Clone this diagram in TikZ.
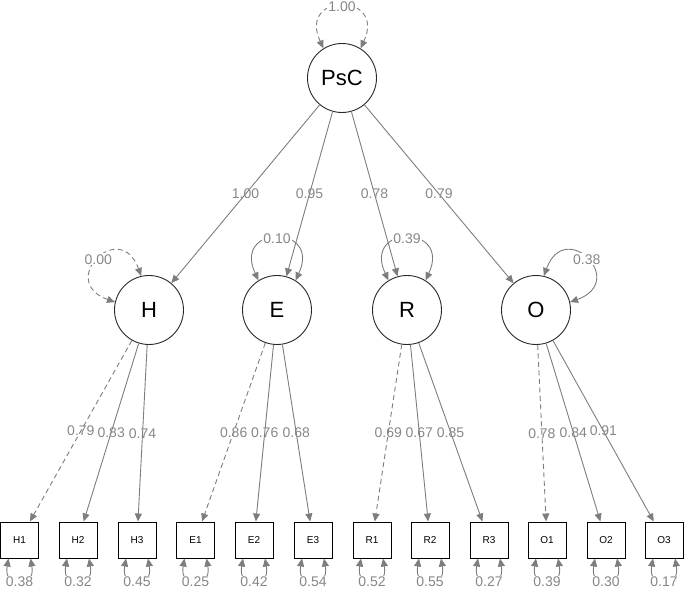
\documentclass[tikz,border=0pt]{standalone}
\usepackage{fontspec}
\setmainfont{Liberation Sans}
\usetikzlibrary{arrows.meta}
\definecolor{semEdge}{RGB}{125,125,125}
\definecolor{semLabel}{RGB}{135,135,135}
\definecolor{semLine}{RGB}{40,40,40}

\begin{document}
\begin{tikzpicture}[x=1pt,y=1pt,
    latent/.style={circle, draw=semLine, line width=0.9pt, minimum size=69pt,
                   inner sep=0pt, font=\fontsize{22}{22}\selectfont},
    manifest/.style={rectangle, draw=black, line width=1pt, minimum width=38pt,
                     minimum height=36pt, inner sep=0pt, font=\fontsize{10}{10}\selectfont},
    load/.style={draw=semEdge, line width=0.9pt, -{Triangle[length=8pt,width=7pt]}},
    fixedload/.style={load, dash pattern=on 5pt off 3.5pt},
    varloop/.style={draw=semEdge, line width=0.9pt,
                    {Triangle[length=8pt,width=7pt]}-{Triangle[length=8pt,width=7pt]}},
    fixedloop/.style={varloop, dash pattern=on 5pt off 3.5pt},
    est/.style={font=\fontsize{14}{14}\selectfont, text=semLabel, inner sep=1pt},
    estbg/.style={est, fill=white}
  ]
  \useasboundingbox (0,0) rectangle (685,590);

  % latent variables
  \node[latent] (PsC) at (342,512) {PsC};
  \node[latent] (H)   at (149,280) {H};
  \node[latent] (E)   at (277,280) {E};
  \node[latent] (R)   at (407,280) {R};
  \node[latent] (O)   at (536,280) {O};

  % indicators with residual variances
  \foreach \name/\x/\res in {H1/19.5/0.38, H2/78/0.32, H3/137/0.45,
                             E1/195.5/0.25, E2/254/0.42, E3/313/0.54,
                             R1/372/0.52, R2/430/0.55, R3/489/0.27,
                             O1/547/0.39, O2/606/0.30, O3/664/0.17} {
    \node[manifest] (\name) at (\x,50) {\name};
    \draw[varloop] ([xshift=-11pt]\name.south) .. controls +(260:32) and +(280:32)
      .. node[estbg] {\res} ([xshift=11pt]\name.south);
  }

  % second-order loadings
  \foreach \to/\val in {H/1.00, E/0.95, R/0.78, O/0.79}
    \draw[load] (PsC) -- node[est] {\val} (\to);

  % first-order loadings (first one fixed)
  \foreach \lat/\val in {H/0.79, E/0.86, R/0.69, O/0.78}
    \draw[fixedload] (\lat) -- node[est] {\val} (\lat1);
  \foreach \lat/\to/\val in {H/H2/0.83, H/H3/0.74, E/E2/0.76, E/E3/0.68,
                             R/R2/0.67, R/R3/0.85, O/O2/0.84, O/O3/0.91}
    \draw[load] (\lat) -- node[est] {\val} (\to);

  % latent variances
  \draw[fixedloop] (PsC.122) .. controls +(115:62) and +(65:62) .. node[estbg] {1.00} (PsC.58);
  \draw[fixedloop] (H.167) .. controls +(160:62) and +(110:62) .. node[estbg] {0.00} (H.103);
  \draw[varloop] (E.122) .. controls +(115:62) and +(65:62) .. node[estbg] {0.10} (E.58);
  \draw[varloop] (R.122) .. controls +(115:62) and +(65:62) .. node[estbg] {0.39} (R.58);
  \draw[varloop] (O.77) .. controls +(70:62) and +(20:62) .. node[estbg] {0.38} (O.13);
\end{tikzpicture}
\end{document}
